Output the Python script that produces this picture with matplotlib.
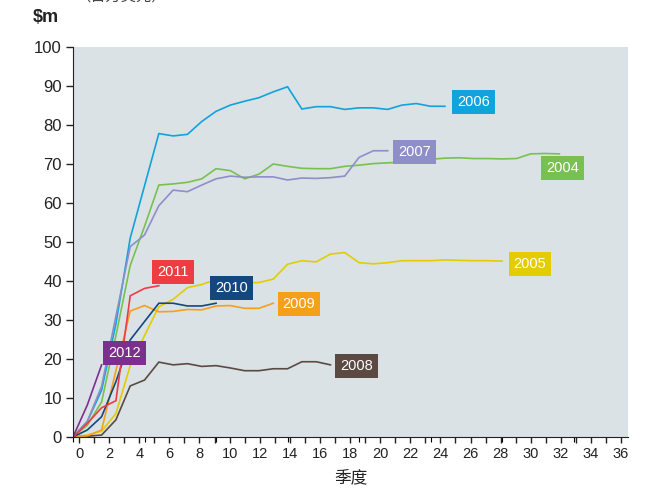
import matplotlib
matplotlib.use("Agg")
import matplotlib.pyplot as plt

plt.rcParams['font.family'] = ['Liberation Sans', 'Noto Sans CJK SC', 'DejaVu Sans']

# cumulative value by quarter since start, one list per vintage year
s2004 = [0, 3, 9, 26, 44, 54, 64.6, 64.9, 65.3, 66.2, 68.8, 68.3, 66.2, 67.4, 70.0, 69.4,
         68.9, 68.8, 68.8, 69.4, 69.7, 70.1, 70.3, 70.5, 70.9, 71.2, 71.5, 71.6, 71.4, 71.4,
         71.3, 71.4, 72.6, 72.7, 72.6]
s2005 = [0, 0.5, 1.5, 6, 18.3, 26, 33.4, 35.3, 38.3, 39.1, 40.4, 39.6, 39.6, 39.6, 40.5,
         44.3, 45.2, 44.9, 46.9, 47.3, 44.7, 44.4, 44.7, 45.2, 45.2, 45.2, 45.4, 45.3, 45.2,
         45.2, 45.1]
s2006 = [0, 4, 12, 29, 51, 64.4, 77.8, 77.2, 77.6, 80.9, 83.5, 85.1, 86.1, 87.0, 88.5, 89.8,
         84.1, 84.7, 84.7, 84.0, 84.4, 84.4, 84.0, 85.1, 85.5, 84.8, 84.8]
s2007 = [0, 4, 13, 31, 48.8, 51.8, 59.3, 63.3, 62.9, 64.6, 66.2, 66.9, 66.6, 66.7, 66.7,
         65.9, 66.4, 66.3, 66.5, 66.9, 71.7, 73.4, 73.4]
s2008 = [0, 0.2, 0.5, 4.4, 13.1, 14.6, 19.2, 18.5, 18.8, 18.1, 18.3, 17.7, 17.0, 17.0, 17.5,
         17.5, 19.3, 19.3, 18.5]
s2009 = [0, 0.3, 1.8, 17, 32.3, 33.7, 32.1, 32.2, 32.7, 32.6, 33.6, 33.7, 33.0, 33.0, 34.3]
s2010 = [0, 1.8, 5.2, 14.2, 24.9, 29.6, 34.3, 34.3, 33.6, 33.6, 34.3]
s2011 = [0, 3.5, 7.5, 9.3, 36.2, 38.1, 38.8]
s2012 = [0, 8.2, 18.5]

years = ['2004', '2005', '2006', '2007', '2008', '2009', '2010', '2011', '2012']
series = [s2004, s2005, s2006, s2007, s2008, s2009, s2010, s2011, s2012]
colors = ['#78C150', '#E3CD00', '#10A3DC', '#8E8EC9', '#5B4A42', '#F6A01A', '#15477F',
          '#EE3D42', '#7D2F8E']
# where each year tag sits (data coords)
tag_pos = {'2004': (34.2, 68.9), '2005': (31.95, 44.4), '2006': (28.0, 85.9),
           '2007': (23.9, 73.1), '2008': (19.8, 18.2), '2009': (15.8, 34.1),
           '2010': (11.1, 38.2), '2011': (7.0, 42.3), '2012': (3.6, 21.5)}

fig = plt.figure(figsize=(6.58, 4.9), dpi=100)
ax = fig.add_axes([73/658, 1 - 437/490, 555/658, 390/490])
ax.set_facecolor('#DAE2E5')

for yr, s, c in zip(years, series, colors):
    ax.plot(range(len(s)), s, color=c, lw=1.2, solid_joinstyle='miter')
    x, y = tag_pos[yr]
    ax.text(x, y, yr, color='white', fontsize=10.5, ha='center', va='center',
            bbox=dict(boxstyle='square,pad=0.35', fc=c, ec='none'))

# data scale (quarters) is a bit tighter than the labelled axis in the original
ax.set_xlim(0, 38.8)
ax.set_ylim(0, 100)
ax.set_yticks(range(0, 101, 10))
ax.tick_params(axis='y', labelsize=12, length=5, width=1, colors='#222222', pad=3)
ax.tick_params(axis='x', bottom=False, labelbottom=False)
for side in ['top', 'right']:
    ax.spines[side].set_visible(False)
ax.spines['left'].set_color('#222222')
ax.spines['bottom'].set_color('#222222')

axt = ax.twiny()
axt.set_xlim(-0.4, 36.46)
axt.xaxis.set_ticks_position('bottom')
axt.xaxis.set_label_position('bottom')
axt.set_xticks(range(0, 37, 2))
axt.set_xticks(range(1, 37, 2), minor=True)
axt.tick_params(axis='x', which='both', length=4, width=1, colors='#222222', labelsize=10.5)
for side in ['top', 'right', 'left', 'bottom']:
    axt.spines[side].set_visible(False)
axt.set_xlabel('季度', fontsize=12, labelpad=6, color='#222222')

fig.text(33/658, 1 - 18/490, '\\$m', fontsize=13, fontweight='bold', va='center',
         color='#222222')
fig.text(75/658, 1 - 4/490, '（百万美元）', fontsize=11, va='bottom', color='#444444')

fig.savefig('out.png', dpi=100)
